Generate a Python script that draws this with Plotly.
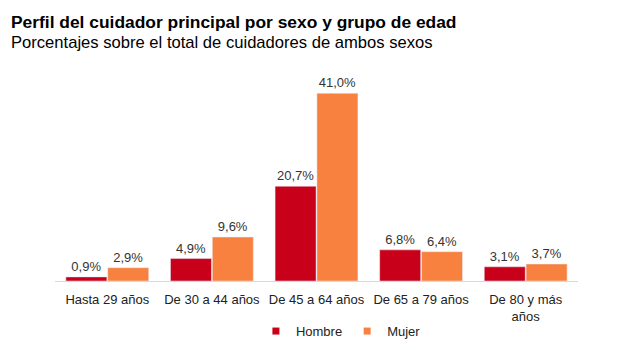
import plotly.graph_objects as go

categories = ["Hasta 29 años", "De 30 a 44 años", "De 45 a 64 años", "De 65 a 79 años", "De 80 y más<br>años"]
hombre = [0.9, 4.9, 20.7, 6.8, 3.1]
mujer = [2.9, 9.6, 41.0, 6.4, 3.7]
series_names = ["Hombre", "Mujer"]
colors = ["#C8001A", "#F98140"]

font = "Liberation Sans, Arial, sans-serif"

fig = go.Figure()
for name, vals, col in zip(series_names, [hombre, mujer], colors):
    fig.add_trace(go.Bar(name=name, x=categories, y=vals, marker_color=col,
                         texttemplate="%{y:.1f}%", textposition="outside",
                         textfont=dict(size=13, color="#333333"), cliponaxis=False,
                         showlegend=False))
# legend-only traces with small square markers
for name, col in zip(series_names, colors):
    fig.add_trace(go.Scatter(name=name, x=[None], y=[None], mode="markers",
                             marker=dict(symbol="square", size=7, color=col),
                             showlegend=True))

fig.update_layout(
    width=629, height=350,
    margin=dict(l=55, r=51, t=75, b=69, autoexpand=False),
    paper_bgcolor="white", plot_bgcolor="white",
    separators=",.",
    barmode="group", bargap=0.2, bargroupgap=0.02,
    font=dict(family=font, size=13, color="#222222"),
    showlegend=True,
    legend=dict(orientation="h", x=0.542, xanchor="center", xref="container",
                y=0.054, yanchor="middle", yref="container",
                font=dict(size=13, color="#222222"), itemwidth=30,
                tracegroupgap=0),
)
H_plot = 350 - 75 - 69
W_plot = 629 - 55 - 51
def px_to_paper(xp, yp):
    return (xp - 55) / W_plot, (350 - 69 - yp) / H_plot
x0, y0 = px_to_paper(9, 22)
x1, y1 = px_to_paper(9, 42)
fig.add_annotation(text="<b>Perfil del cuidador principal por sexo y grupo de edad</b>",
                   xref="paper", yref="paper", x=x0, y=y0, showarrow=False,
                   xanchor="left", yanchor="middle", font=dict(size=17.4, color="black"))
fig.add_annotation(text="Porcentajes sobre el total de cuidadores de ambos sexos",
                   xref="paper", yref="paper", x=x1, y=y1, showarrow=False,
                   xanchor="left", yanchor="middle", font=dict(size=16.6, color="black"))

fig.update_xaxes(showline=True, linecolor="#D9D9D9", linewidth=1, ticks="",
                 tickfont=dict(size=13, color="#222222"), showgrid=False,
                 ticklabelstandoff=6, automargin=False)
fig.update_yaxes(range=[0, 45], visible=False, showgrid=False, automargin=False)

fig.write_html("out.html")
